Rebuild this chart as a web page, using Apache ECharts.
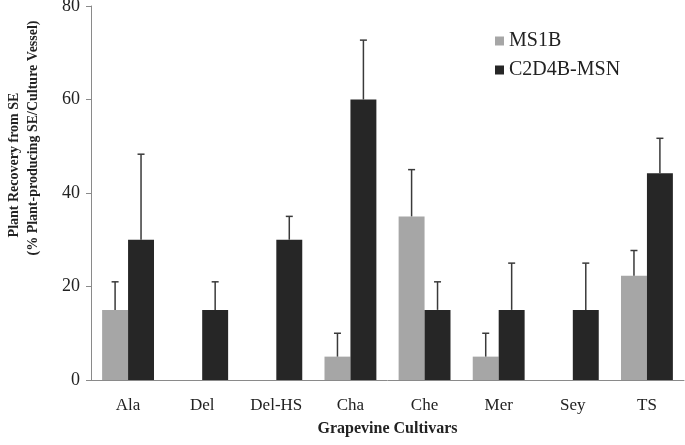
<!DOCTYPE html>
<html>
<head>
<meta charset="utf-8">
<script src="https://cdn.jsdelivr.net/npm/echarts@6/dist/echarts.min.js"></script>
<style>
  html, body { margin: 0; padding: 0; background: #fff; }
  #chart { width: 685px; height: 445px; }
</style>
</head>
<body>
<div id="chart"></div>
<script>
var cultivars = ['Ala', 'Del', 'Del-HS', 'Cha', 'Che', 'Mer', 'Sey', 'TS'];
var ms1b = [15, 0, 0, 5, 35, 5, 0, 22.3];
var ms1bErr = [21, null, null, 10, 45, 10, null, 27.7];
var c2d4b = [30, 15, 30, 60, 15, 15, 15, 44.2];
var c2d4bErr = [48.3, 21, 35, 72.7, 21, 25, 25, 51.7];

var serif = '"Liberation Serif", "DejaVu Serif", serif';
var chart = echarts.init(document.getElementById('chart'));

// upper error whisker, shifted to the left or right bar of the pair
function errorBars(vals, tops, side) {
  return {
    type: 'custom',
    silent: true,
    z: 5,
    data: vals.map(function(v, i) { return [i, v, tops[i]]; }),
    renderItem: function(params, api) {
      var top = api.value(2);
      if (top == null || isNaN(top)) return null;
      var band = api.size([1, 0])[0];
      var bw = band * 0.7 / 2;
      var base = api.coord([api.value(0), api.value(1)]);
      var tip = api.coord([api.value(0), top]);
      var x = base[0] + side * bw / 2;
      var style = { stroke: '#3a3a3a', lineWidth: 1.5 };
      return {
        type: 'group',
        children: [
          { type: 'line', shape: { x1: x, y1: base[1], x2: x, y2: tip[1] }, style: style },
          { type: 'line', shape: { x1: x - 3.5, y1: tip[1], x2: x + 3.5, y2: tip[1] }, style: style }
        ]
      };
    }
  };
}

chart.setOption({
  backgroundColor: '#fff',
  animation: false,
  grid: { left: 91, right: 1, top: 6, bottom: 65, containLabel: false, outerBoundsMode: 'none' },
  legend: {
    orient: 'vertical',
    left: 490,
    top: 26,
    itemWidth: 9,
    itemHeight: 9,
    itemGap: 9,
    icon: 'rect',
    textStyle: { fontFamily: serif, fontSize: 20, color: '#222' },
    data: ['MS1B', 'C2D4B-MSN']
  },
  xAxis: {
    type: 'category',
    data: cultivars,
    name: 'Grapevine Cultivars',
    nameLocation: 'middle',
    nameGap: 41,
    nameTextStyle: { fontFamily: serif, fontSize: 16, fontWeight: 'bold', color: '#222' },
    axisLine: { lineStyle: { color: '#8a8a8a', width: 1 } },
    axisTick: { length: 5, lineStyle: { color: '#8a8a8a' } },
    axisLabel: { fontFamily: serif, fontSize: 17, color: '#222', margin: 17 }
  },
  yAxis: {
    type: 'value',
    min: 0,
    max: 80,
    interval: 20,
    name: '{a|Plant Recovery from SE}\n{b|(% Plant-producing SE/Culture Vessel)}',
    nameLocation: 'middle',
    nameGap: 48,
    nameTextStyle: {
      fontFamily: serif,
      fontSize: 14,
      fontWeight: 'bold',
      color: '#222',
      lineHeight: 19,
      rich: {
        a: { fontFamily: serif, fontSize: 14, fontWeight: 'bold', color: '#222', padding: [0, 0, 0, 56] },
        b: { fontFamily: serif, fontSize: 14, fontWeight: 'bold', color: '#222', padding: [0, 0, 0, 110] }
      }
    },
    axisLine: { show: true, lineStyle: { color: '#8a8a8a', width: 1 } },
    axisTick: { show: true, length: 5, lineStyle: { color: '#8a8a8a' } },
    splitLine: { show: false },
    axisLabel: { fontFamily: serif, fontSize: 18, color: '#222', margin: 11 }
  },
  series: [
    {
      name: 'MS1B',
      type: 'bar',
      data: ms1b,
      barGap: '0%',
      barCategoryGap: '30%',
      itemStyle: { color: '#a6a6a6' }
    },
    {
      name: 'C2D4B-MSN',
      type: 'bar',
      data: c2d4b,
      barGap: '0%',
      barCategoryGap: '30%',
      itemStyle: { color: '#262626' }
    },
    errorBars(ms1b, ms1bErr, -1),
    errorBars(c2d4b, c2d4bErr, 1)
  ]
});
</script>
</body>
</html>
